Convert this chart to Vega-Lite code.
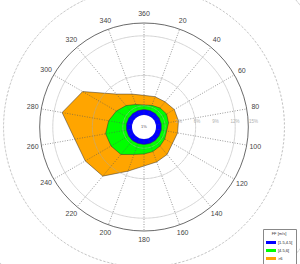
{
  "$schema": "https://vega.github.io/schema/vega-lite/v6.json",
  "width": 208,
  "height": 208,
  "autosize": {"type": "none"},
  "padding": {"left": 40, "top": 23, "right": 52, "bottom": 33},
  "config": {"view": {"stroke": null}, "font": "Liberation Sans"},
  "datasets": {
    "rose": [
      {"dir": 0, "band": ">6", "pct": 3.2},
      {"dir": 20, "band": ">6", "pct": 3.3},
      {"dir": 40, "band": ">6", "pct": 3.4},
      {"dir": 60, "band": ">6", "pct": 3.75},
      {"dir": 80, "band": ">6", "pct": 3.75},
      {"dir": 100, "band": ">6", "pct": 3.6},
      {"dir": 120, "band": ">6", "pct": 3.4},
      {"dir": 140, "band": ">6", "pct": 3.9},
      {"dir": 160, "band": ">6", "pct": 4.1},
      {"dir": 180, "band": ">6", "pct": 4.4},
      {"dir": 200, "band": ">6", "pct": 5.7},
      {"dir": 220, "band": ">6", "pct": 8.5},
      {"dir": 240, "band": ">6", "pct": 9.1},
      {"dir": 260, "band": ">6", "pct": 9.5},
      {"dir": 280, "band": ">6", "pct": 11.6},
      {"dir": 300, "band": ">6", "pct": 9.6},
      {"dir": 320, "band": ">6", "pct": 5.05},
      {"dir": 340, "band": ">6", "pct": 3.75},
      {"dir": 0, "band": "[4.5,6[", "pct": 1.63},
      {"dir": 20, "band": "[4.5,6[", "pct": 1.8},
      {"dir": 40, "band": "[4.5,6[", "pct": 2.1},
      {"dir": 60, "band": "[4.5,6[", "pct": 2.3},
      {"dir": 80, "band": "[4.5,6[", "pct": 2.1},
      {"dir": 100, "band": "[4.5,6[", "pct": 1.8},
      {"dir": 120, "band": "[4.5,6[", "pct": 1.95},
      {"dir": 140, "band": "[4.5,6[", "pct": 2.1},
      {"dir": 160, "band": "[4.5,6[", "pct": 2.3},
      {"dir": 180, "band": "[4.5,6[", "pct": 2.45},
      {"dir": 200, "band": "[4.5,6[", "pct": 2.8},
      {"dir": 220, "band": "[4.5,6[", "pct": 3.9},
      {"dir": 240, "band": "[4.5,6[", "pct": 4.25},
      {"dir": 260, "band": "[4.5,6[", "pct": 4.4},
      {"dir": 280, "band": "[4.5,6[", "pct": 3.9},
      {"dir": 300, "band": "[4.5,6[", "pct": 3.25},
      {"dir": 320, "band": "[4.5,6[", "pct": 2.6},
      {"dir": 340, "band": "[4.5,6[", "pct": 1.95},
      {"dir": 0, "band": "[1.5,4.5[", "pct": 0.9},
      {"dir": 20, "band": "[1.5,4.5[", "pct": 0.9},
      {"dir": 40, "band": "[1.5,4.5[", "pct": 0.9},
      {"dir": 60, "band": "[1.5,4.5[", "pct": 0.9},
      {"dir": 80, "band": "[1.5,4.5[", "pct": 0.9},
      {"dir": 100, "band": "[1.5,4.5[", "pct": 0.9},
      {"dir": 120, "band": "[1.5,4.5[", "pct": 0.9},
      {"dir": 140, "band": "[1.5,4.5[", "pct": 0.9},
      {"dir": 160, "band": "[1.5,4.5[", "pct": 0.9},
      {"dir": 180, "band": "[1.5,4.5[", "pct": 0.9},
      {"dir": 200, "band": "[1.5,4.5[", "pct": 0.9},
      {"dir": 220, "band": "[1.5,4.5[", "pct": 0.95},
      {"dir": 240, "band": "[1.5,4.5[", "pct": 0.95},
      {"dir": 260, "band": "[1.5,4.5[", "pct": 0.95},
      {"dir": 280, "band": "[1.5,4.5[", "pct": 0.95},
      {"dir": 300, "band": "[1.5,4.5[", "pct": 0.9},
      {"dir": 320, "band": "[1.5,4.5[", "pct": 0.9},
      {"dir": 340, "band": "[1.5,4.5[", "pct": 0.9}
    ],
    "rings": [
      {"pct": 1.5}, {"pct": 3}, {"pct": 4.5}, {"pct": 6}, {"pct": 7.5},
      {"pct": 9}, {"pct": 10.5}, {"pct": 12}, {"pct": 13.5}
    ],
    "outer": [{"pct": 15}],
    "ringlabels": [
      {"pct": 3, "label": "3%"}, {"pct": 6, "label": "6%"}, {"pct": 9, "label": "9%"},
      {"pct": 12, "label": "12%"}, {"pct": 15, "label": "15%"}
    ],
    "dirs": [
      {"dir": 20}, {"dir": 40}, {"dir": 60}, {"dir": 80}, {"dir": 100}, {"dir": 120},
      {"dir": 140}, {"dir": 160}, {"dir": 180}, {"dir": 200}, {"dir": 220}, {"dir": 240},
      {"dir": 260}, {"dir": 280}, {"dir": 300}, {"dir": 320}, {"dir": 340}, {"dir": 360}
    ],
    "center": [{"label": "1%"}]
  },
  "layer": [
    {
      "data": {"name": "rose"},
      "transform": [
        {"calculate": "(12 + 6.1333 * datum.pct) * sin(datum.dir * PI / 180)", "as": "px"},
        {"calculate": "(12 + 6.1333 * datum.pct) * cos(datum.dir * PI / 180)", "as": "py"}
      ],
      "mark": {"type": "line", "interpolate": "linear-closed", "stroke": "#333", "strokeWidth": 0.5},
      "encoding": {
        "x": {"field": "px", "type": "quantitative", "scale": {"domain": [-104, 104], "nice": false, "zero": false}, "axis": null},
        "y": {"field": "py", "type": "quantitative", "scale": {"domain": [-104, 104], "nice": false, "zero": false}, "axis": null},
        "order": {"field": "dir", "type": "quantitative"},
        "fill": {
          "field": "band", "type": "nominal",
          "scale": {"domain": ["[1.5,4.5[", "[4.5,6[", ">6"], "range": ["#0000ff", "#00ff00", "#ffa500"]},
          "legend": {
            "orient": "none", "legendX": 223, "legendY": 206,
            "title": "FF [m/s]", "titleFontSize": 4, "titleFontWeight": "normal", "titleColor": "#333",
            "titleAnchor": "middle", "titlePadding": 1.5,
            "labelFontSize": 4, "labelColor": "#222", "labelOffset": 2,
            "symbolType": "M-1,-0.3H1V0.3H-1Z", "symbolSize": 100, "symbolStrokeWidth": 0,
            "padding": 3, "strokeColor": "#888", "fillColor": "white", "rowPadding": 1
          }
        }
      }
    },
    {
      "data": {"name": "rings"},
      "transform": [{"calculate": "12 + 6.1333 * datum.pct", "as": "rr"}],
      "mark": {"type": "arc", "filled": false, "color": "#aaaaaa", "strokeWidth": 0.5, "strokeDash": [2, 2]},
      "encoding": {
        "theta": {"value": 0}, "theta2": {"value": 6.2832},
        "radius": {"field": "rr", "type": "quantitative", "scale": {"type": "linear", "domain": [0, 104], "range": [0, 104], "zero": true}}
      }
    },
    {
      "data": {"name": "outer"},
      "transform": [{"calculate": "12 + 6.1333 * datum.pct", "as": "rr"}],
      "mark": {"type": "arc", "filled": false, "color": "#444444", "strokeWidth": 0.8},
      "encoding": {
        "theta": {"value": 0}, "theta2": {"value": 6.2832},
        "radius": {"field": "rr", "type": "quantitative"}
      }
    },
    {
      "data": {"name": "dirs"},
      "transform": [
        {"calculate": "12 * sin(datum.dir * PI / 180)", "as": "sx1"},
        {"calculate": "12 * cos(datum.dir * PI / 180)", "as": "sy1"},
        {"calculate": "104 * sin(datum.dir * PI / 180)", "as": "sx2"},
        {"calculate": "104 * cos(datum.dir * PI / 180)", "as": "sy2"}
      ],
      "mark": {"type": "rule", "color": "#555555", "strokeWidth": 0.6, "strokeDash": [1, 1.5]},
      "encoding": {
        "x": {"field": "sx1", "type": "quantitative"},
        "y": {"field": "sy1", "type": "quantitative"},
        "x2": {"field": "sx2"},
        "y2": {"field": "sy2"}
      }
    },
    {
      "data": {"name": "center"},
      "mark": {"type": "arc", "fill": "white", "stroke": null},
      "encoding": {"theta": {"value": 0}, "theta2": {"value": 6.2832}, "radius": {"value": 12}}
    },
    {
      "data": {"name": "center"},
      "mark": {"type": "text", "fontSize": 4, "color": "#555"},
      "encoding": {"x": {"datum": 0, "type": "quantitative"}, "y": {"datum": 0, "type": "quantitative"}, "text": {"field": "label"}}
    },
    {
      "data": {"name": "dirs"},
      "mark": {"type": "text", "fontSize": 7, "color": "#444"},
      "encoding": {
        "theta": {"field": "dir", "type": "quantitative", "stack": null, "scale": {"domain": [0, 360], "range": [0, 6.2832]}},
        "radius": {"value": 113},
        "text": {"field": "dir", "type": "quantitative"}
      }
    },
    {
      "data": {"name": "ringlabels"},
      "transform": [{"calculate": "13 + 6.1333 * datum.pct", "as": "lx"}],
      "mark": {"type": "text", "fontSize": 4.5, "color": "#b0b0b0", "align": "left"},
      "encoding": {
        "x": {"field": "lx", "type": "quantitative"},
        "y": {"datum": 5, "type": "quantitative"},
        "text": {"field": "label"}
      }
    }
  ]
}
